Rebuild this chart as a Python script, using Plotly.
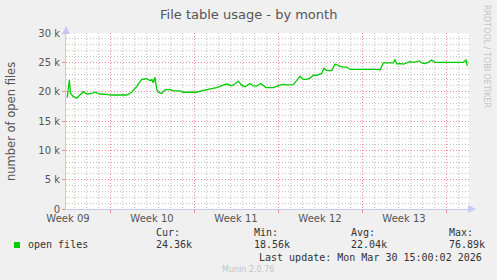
import plotly.graph_objects as go

# ---------------- data ----------------
times = [
    "2026-02-26 10:30", "2026-02-26 14:40", "2026-02-26 17:00", "2026-02-26 22:30",
    "2026-02-27 05:20", "2026-02-27 18:40", "2026-02-28 01:20", "2026-02-28 11:20",
    "2026-02-28 18:00", "2026-03-01 04:00", "2026-03-01 20:40", "2026-03-02 00:00",
    "2026-03-03 09:20", "2026-03-03 19:20", "2026-03-04 05:20", "2026-03-04 15:20",
    "2026-03-05 01:20", "2026-03-05 08:00", "2026-03-05 12:00", "2026-03-05 14:40",
    "2026-03-05 18:00", "2026-03-05 21:20", "2026-03-06 00:40", "2026-03-06 07:20",
    "2026-03-06 14:00", "2026-03-07 00:00", "2026-03-07 06:40", "2026-03-07 20:00",
    "2026-03-08 02:40", "2026-03-09 05:20", "2026-03-09 18:40", "2026-03-10 08:00",
    "2026-03-10 21:20", "2026-03-11 10:40", "2026-03-11 17:20", "2026-03-12 03:20",
    "2026-03-12 10:00", "2026-03-12 16:40", "2026-03-12 23:20", "2026-03-13 06:00",
    "2026-03-13 14:00", "2026-03-13 16:00", "2026-03-13 22:40", "2026-03-14 05:20",
    "2026-03-14 13:20", "2026-03-14 20:00", "2026-03-15 00:00", "2026-03-15 14:40",
    "2026-03-15 21:20", "2026-03-16 04:00", "2026-03-16 10:40", "2026-03-16 17:20",
    "2026-03-17 06:40", "2026-03-17 13:20", "2026-03-17 20:00", "2026-03-18 02:40",
    "2026-03-18 09:20", "2026-03-18 16:00", "2026-03-18 22:40", "2026-03-19 05:20",
    "2026-03-19 12:00", "2026-03-19 15:20", "2026-03-19 20:00", "2026-03-20 01:20",
    "2026-03-20 11:20", "2026-03-20 18:00", "2026-03-20 22:40", "2026-03-21 04:00",
    "2026-03-21 10:40", "2026-03-21 17:20", "2026-03-22 00:00", "2026-03-23 16:00",
    "2026-03-23 19:20", "2026-03-24 08:40", "2026-03-24 12:00", "2026-03-24 18:40",
    "2026-03-25 14:40", "2026-03-25 18:00", "2026-03-25 21:20", "2026-03-26 04:00",
    "2026-03-26 10:40", "2026-03-26 17:20", "2026-03-27 00:00", "2026-03-27 06:40",
    "2026-03-27 13:20", "2026-03-27 18:40", "2026-03-27 23:20", "2026-03-28 06:00",
    "2026-03-28 12:40", "2026-03-28 19:20", "2026-03-29 02:00", "2026-03-31 10:40",
    "2026-03-31 16:00", "2026-03-31 18:40",
]
open_files_k = [
    19.04, 22.0, 19.7, 19.2,
    18.9, 20.0, 19.6, 19.7,
    19.9, 19.6, 19.5, 19.43,
    19.43, 19.9, 20.85, 22.1,
    22.2, 21.9, 22.05, 21.5,
    22.45, 20.4, 19.9, 19.7,
    20.3, 20.4, 20.15, 20.15,
    19.9, 19.9, 20.2, 20.4,
    20.7, 21.1, 21.3, 21.0,
    21.3, 21.8, 21.1, 20.85,
    21.3, 21.4, 21.0, 20.95,
    21.4, 20.9, 20.7, 20.7,
    20.95, 21.1, 21.25, 21.15,
    21.2, 22.0, 22.6, 22.1,
    22.1, 22.3, 22.8, 22.8,
    22.95, 23.1, 24.0, 23.6,
    23.6, 24.7, 24.55, 24.3,
    24.2, 24.2, 23.8, 23.9,
    23.8, 23.8, 23.7, 24.9,
    24.9, 25.5, 24.75, 24.8,
    24.7, 24.9, 25.1, 25.0,
    25.1, 25.25, 24.9, 24.8,
    25.0, 25.4, 25.0, 25.0,
    25.4, 24.4,
]
open_files = [v * 1000 for v in open_files_k]

week_starts = ["2026-03-02", "2026-03-09", "2026-03-16", "2026-03-23", "2026-03-30"]
week_label_pos = ["2026-02-26 12:00", "2026-03-05 12:00", "2026-03-12 12:00",
                  "2026-03-19 12:00", "2026-03-26 12:00"]
week_labels = ["Week 09", "Week 10", "Week 11", "Week 12", "Week 13"]

y_ticks = [0, 5000, 10000, 15000, 20000, 25000, 30000]
y_tick_labels = ["0", "5 k", "10 k", "15 k", "20 k", "25 k", "30 k"]

x_range = ["2026-02-26 08:00", "2026-03-31 22:00"]
y_range = [0, 30000]

series_name = "open files"
stat_labels = ["Cur:", "Min:", "Avg:", "Max:"]
stat_values = ["24.36k", "18.56k", "22.04k", "76.89k"]

title = "File table usage - by month"
y_title = "number of open files"
last_update = "Last update: Mon Mar 30 15:00:02 2026"
munin_ver = "Munin 2.0.76"
rrd_credit = "RRDTOOL / TOBI OETIKER"

# ---------------- layout geometry ----------------
W, H = 497, 280
L, R, T, B = 66, 469, 33, 209


def px(x):
    return (x - L) / (R - L)


def py(y):
    return (B - y) / (B - T)


GRAY = "#555555"
MGRID = "#f08c8c"
GRID = "#c4c4c4"
AXIS = "#c8c8f4"
DASH = "1px,2px"
SANS = "DejaVu Sans"
MONO = "DejaVu Sans Mono"

fig = go.Figure()
fig.add_trace(go.Scatter(
    x=times, y=open_files, mode="lines", name=series_name,
    line=dict(color="#00cc00", width=1.3), hoverinfo="skip", showlegend=False,
))
# invisible trace on label axis so it renders
fig.add_trace(go.Scatter(
    x=times, y=open_files, mode="lines", xaxis="x2",
    line=dict(color="rgba(0,0,0,0)", width=0), hoverinfo="skip", showlegend=False,
))

fig.update_layout(
    width=W, height=H,
    margin=dict(l=L, r=W - R, t=T, b=H - B),
    paper_bgcolor="#f0f0f0", plot_bgcolor="#ffffff",
    font=dict(family=SANS, size=10, color=GRAY),
    xaxis=dict(
        type="date", range=x_range, tickvals=week_starts, showticklabels=False,
        showgrid=True, gridcolor=MGRID, griddash=DASH, gridwidth=1,
        ticks="outside", ticklen=3, tickcolor=MGRID,
        showline=True, linecolor=AXIS, linewidth=1, zeroline=False,
        minor=dict(dtick=86400000, tick0="2026-03-02", showgrid=True,
                   gridcolor=GRID, griddash=DASH, gridwidth=1,
                   ticks="", ticklen=2, tickcolor=GRID),
        fixedrange=True,
    ),
    xaxis2=dict(
        type="date", overlaying="x", side="bottom", range=x_range,
        tickvals=week_label_pos, ticktext=week_labels, showgrid=False,
        ticks="", showline=False, zeroline=False, ticklabelstandoff=2,
        tickfont=dict(family=SANS, size=10, color=GRAY),
        fixedrange=True,
    ),
    yaxis=dict(
        range=y_range, tickvals=y_ticks, ticktext=y_tick_labels,
        showgrid=True, gridcolor=MGRID, griddash=DASH, gridwidth=1,
        ticks="outside", ticklen=3, tickcolor=MGRID,
        showline=True, linecolor=AXIS, linewidth=1, zeroline=False,
        tickfont=dict(family=SANS, size=10, color=GRAY),
        minor=dict(dtick=1000, showgrid=True, gridcolor=GRID,
                   griddash=DASH, gridwidth=1),
        fixedrange=True,
    ),
    showlegend=False,
)

ann = []
ann.append(dict(text=title, x=px(248), y=py(14), xref="paper", yref="paper",
                showarrow=False, xanchor="center", yanchor="middle",
                font=dict(family=SANS, size=13, color=GRAY)))
ann.append(dict(text=y_title, x=px(11), y=py(121), xref="paper", yref="paper",
                showarrow=False, xanchor="center", yanchor="middle", textangle=-90,
                font=dict(family=SANS, size=11.5, color=GRAY)))
ann.append(dict(text=rrd_credit, x=px(487), y=py(56), xref="paper", yref="paper",
                showarrow=False, xanchor="center", yanchor="middle", textangle=90,
                font=dict(family=SANS, size=8, color="#c4c4c4")))
# axis arrows
ann.append(dict(text="", x=px(66), y=py(26), xref="paper", yref="paper",
                showarrow=True, ax=0, ay=10, axref="pixel", ayref="pixel",
                arrowhead=2, arrowsize=1.6, arrowwidth=1, arrowcolor=AXIS))
ann.append(dict(text="", x=px(476), y=py(209), xref="paper", yref="paper",
                showarrow=True, ax=-10, ay=0, axref="pixel", ayref="pixel",
                arrowhead=2, arrowsize=1.6, arrowwidth=1, arrowcolor=AXIS))
# legend
ann.append(dict(text=series_name, x=px(26), y=py(244.5), xref="paper", yref="paper",
                showarrow=False, xanchor="left", yanchor="middle",
                font=dict(family=MONO, size=10, color="#333333")))
stat_x = [154, 252, 349, 447]
for sx, lab, val in zip(stat_x, stat_labels, stat_values):
    ann.append(dict(text=lab, x=px(sx), y=py(233), xref="paper", yref="paper",
                    showarrow=False, xanchor="left", yanchor="middle",
                    font=dict(family=MONO, size=10, color="#333333")))
    ann.append(dict(text=val, x=px(sx), y=py(244.5), xref="paper", yref="paper",
                    showarrow=False, xanchor="left", yanchor="middle",
                    font=dict(family=MONO, size=10, color="#333333")))
ann.append(dict(text=last_update, x=px(484), y=py(257), xref="paper", yref="paper",
                showarrow=False, xanchor="right", yanchor="middle",
                font=dict(family=MONO, size=10, color="#333333")))
ann.append(dict(text=munin_ver, x=px(248), y=py(269), xref="paper", yref="paper",
                showarrow=False, xanchor="center", yanchor="middle",
                font=dict(family=SANS, size=8, color="#c4c4c4")))
fig.update_layout(annotations=ann)

fig.add_shape(type="rect", xref="paper", yref="paper",
              x0=px(14), x1=px(20), y0=py(248), y1=py(242),
              fillcolor="#00cc00", line=dict(width=0))

fig.write_html("out.html", config={"displayModeBar": False})
